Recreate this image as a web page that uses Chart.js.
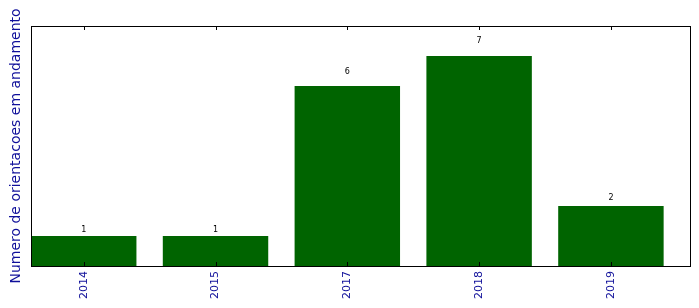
<!DOCTYPE html>
<html>
<head>
<meta charset="utf-8">
<script src="https://cdn.jsdelivr.net/npm/chart.js@4/dist/chart.umd.min.js"></script>
<style>
  html, body { margin: 0; padding: 0; background: #fff; }
  #wrap { width: 699px; height: 308px; }
</style>
</head>
<body>
<div id="wrap"><canvas id="orientChart" width="699" height="308"></canvas></div>
<script>
// Data
const years = ['2014', '2015', '2017', '2018', '2019'];
const counts = [1, 1, 6, 7, 2];
const yTitle = 'Numero de orientacoes em andamento';

const labelBlue = '#10109a';
const font = 'DejaVu Sans';

// matplotlib-like frame, inward ticks and value labels
const mplLook = {
  id: 'mplLook',
  afterDatasetsDraw(chart) {
    const { ctx, chartArea: a } = chart;
    const x = chart.scales.x;
    const y = chart.scales.y;
    ctx.save();
    ctx.strokeStyle = '#000';
    ctx.lineWidth = 1;
    x.ticks.forEach((t, i) => {
      const px = Math.round(x.getPixelForTick(i)) + 0.5;
      ctx.beginPath();
      ctx.moveTo(px, a.top);
      ctx.lineTo(px, a.top + 4);
      ctx.moveTo(px, a.bottom);
      ctx.lineTo(px, a.bottom - 4);
      ctx.stroke();
    });
    ctx.strokeRect(Math.round(a.left) + 0.5, Math.round(a.top) + 0.5,
      Math.round(a.right - a.left), Math.round(a.bottom - a.top));

    // labels sit at 1.05 x bar height, like the original
    ctx.fillStyle = '#000';
    ctx.font = '8px "' + font + '"';
    ctx.textAlign = 'center';
    ctx.textBaseline = 'bottom';
    chart.getDatasetMeta(0).data.forEach((bar, i) => {
      ctx.fillText(String(counts[i]), bar.x, y.getPixelForValue(counts[i] * 1.05) - 1);
    });
    ctx.restore();
  }
};

new Chart(document.getElementById('orientChart'), {
  type: 'bar',
  data: {
    datasets: [
      {
        data: counts.map((v, i) => ({ x: i, y: v })),
        backgroundColor: '#006400',
        borderWidth: 0,
        barPercentage: 0.8,
        categoryPercentage: 1,
      },
    ],
  },
  options: {
    responsive: false,
    animation: false,
    layout: { padding: { top: 26, right: 9, left: 0, bottom: 0 } },
    plugins: { legend: { display: false }, tooltip: { enabled: false } },
    scales: {
      x: {
        type: 'linear',
        offset: false,
        min: -0.4,
        max: 4.6,
        afterBuildTicks: (s) => { s.ticks = years.map((_, i) => ({ value: i })); },
        afterFit: (s) => { s.height = 42; },
        grid: { display: false, drawTicks: false },
        border: { display: false },
        ticks: {
          autoSkip: false,
          minRotation: 90,
          maxRotation: 90,
          padding: 5,
          color: labelBlue,
          font: { family: font, size: 11 },
          callback: (v) => years[v],
        },
      },
      y: {
        min: 0,
        max: 8,
        afterFit: (s) => { s.width = 31; },
        grid: { display: false, drawTicks: false },
        border: { display: false },
        ticks: { display: false },
        title: {
          display: true,
          text: yTitle,
          color: labelBlue,
          font: { family: font, size: 14 },
          padding: { top: 8, bottom: 0 },
        },
      },
    },
  },
  plugins: [mplLook],
});
</script>
</body>
</html>
